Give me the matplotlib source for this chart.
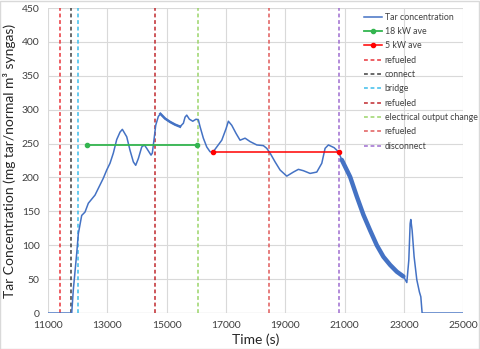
import matplotlib
matplotlib.use('Agg')
import matplotlib.pyplot as plt
from matplotlib.patches import Rectangle

plt.rcParams['font.family'] = ['Lato', 'DejaVu Sans']

# Data ===========================================
time_s = [11000, 11800, 11853, 11968, 12023, 12136, 12248, 12360, 12585, 12697,
          12866, 12980, 13091, 13203, 13317, 13429, 13507, 13655, 13766, 13878,
          13957, 14047, 14160, 14249, 14329, 14474, 14518, 14586, 14632, 14720,
          14790, 14946, 15115, 15284, 15452, 15565, 15621, 15678, 15767, 15881,
          15992, 16070, 16127, 16238, 16353, 16464, 16555, 16690, 16859, 17004,
          17082, 17196, 17341, 17476, 17645, 17813, 18040, 18262, 18376, 18488,
          18657, 18826, 19051, 19274, 19443, 19612, 19837, 20063, 20232, 20343,
          20455, 20647, 20792, 20906, 21187, 21412, 21635, 21861, 22087, 22310,
          22536, 22762, 22984, 23099, 23166, 23211, 23233, 23278, 23345, 23436,
          23524, 23571, 23615, 25000]
tar_conc = [0, 0, 34, 88, 117, 144, 149, 162, 174, 184,
            199, 211, 221, 236, 256, 267, 271, 260, 240, 223,
            218, 228, 245, 248, 243, 233, 236, 260, 277, 290,
            294, 287, 282, 278, 275, 280, 289, 292, 286, 283,
            286, 285, 275, 258, 245, 238, 237, 245, 255, 272,
            283, 277, 265, 255, 258, 253, 248, 247, 243, 236,
            223, 211, 202, 208, 212, 210, 206, 208, 221, 243,
            248, 244, 238, 226, 201, 172, 145, 122, 100, 83,
            71, 61, 54, 45, 78, 132, 138, 122, 83, 49,
            31, 24, 0, 0]

ave18_t = [12305, 16037]
ave18_v = [248, 248]
ave5_t = [16577, 20815]
ave5_v = [238, 238]

events = ['refueled', 'connect', 'bridge', 'refueled', 'electrical output change',
          'refueled', 'disconnect']
event_t = [11420, 11780, 12000, 14620, 16060, 18465, 20815]
event_colors = ['#E8343A', '#404040', '#3DBDEB', '#C0282D', '#9BD46A', '#E05A5A', '#9E6CD0']

# Figure =========================================
fig = plt.figure(figsize=(4.8, 3.49), dpi=100)
ax = fig.add_axes([0.1, 0.103, 0.865, 0.874])

blue = '#4472C4'
ax.plot(time_s, tar_conc, color=blue, lw=1.1, label='Tar concentration', zorder=3)
# noisy stretch after disconnect looks like a thick band
i0, i1 = time_s.index(20906), time_s.index(22984)
ax.plot(time_s[i0:i1 + 1], tar_conc[i0:i1 + 1], color=blue, lw=3.2, zorder=3,
        solid_capstyle='round')
j0, j1 = time_s.index(14790), time_s.index(15452)
ax.plot(time_s[j0:j1 + 1], tar_conc[j0:j1 + 1], color=blue, lw=1.8, zorder=3)

ax.plot(ave18_t, ave18_v, color='#33B54F', lw=1.3, marker='o', ms=3,
        label='18 kW ave', zorder=4)
ax.plot(ave5_t, ave5_v, color='#FF0000', lw=1.1, marker='o', ms=3,
        label='5 kW ave', zorder=4)

for name, t, c in zip(events, event_t, event_colors):
    ax.axvline(t, color=c, lw=1.1, ls=(0, (2.5, 1.8)), label=name, zorder=2)

# Axes ===========================================
ax.set_xlim(11000, 25000)
ax.set_ylim(0, 450)
ax.set_xticks(range(11000, 25001, 2000))
ax.set_yticks(range(0, 451, 50))
ax.tick_params(length=0, labelsize=7.5, colors='#404040', pad=6)
ax.grid(True, color='#D9D9D9', lw=0.8)
ax.set_axisbelow(True)
for s in ax.spines.values():
    s.set_visible(False)
ax.axhline(0, color='#BFBFBF', lw=0.8, zorder=1)

ax.set_xlabel('Time (s)', fontsize=10, color='#262626', labelpad=2)
ax.set_ylabel('Tar Concentration (mg tar/normal m³ syngas)', fontsize=10,
              color='#262626', labelpad=4)

ax.legend(loc='upper left', bbox_to_anchor=(0.761, 0.985), frameon=False,
          fontsize=6.3, handlelength=2.05, handletextpad=0.3, labelspacing=0.61,
          borderpad=0, borderaxespad=0, labelcolor='#404040')

fig.patches.append(Rectangle((0.001, 0.001), 0.997, 0.997, transform=fig.transFigure,
                             fill=False, edgecolor='#D9D9D9', lw=1))

fig.savefig('out.png', dpi=100)
